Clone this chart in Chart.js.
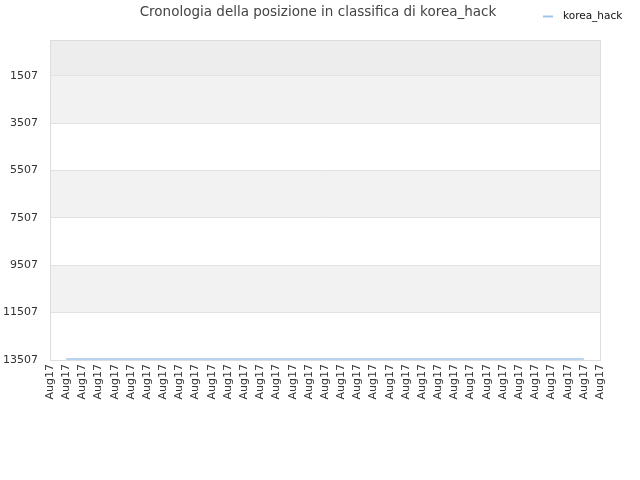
<!DOCTYPE html>
<html>
 <head>
  <meta charset="utf-8">
  <title>Cronologia della posizione in classifica di korea_hack</title>
  <script src="https://cdn.jsdelivr.net/npm/chart.js@4.4.1/dist/chart.umd.min.js"></script>
  <style>
    body { margin: 0; background: #fff; }
    #wrap { width: 640px; height: 480px; }
  </style>
 </head>
 <body>
  <div id="wrap">
    <canvas id="myChart" width="640" height="480"></canvas>
  </div>

  <script type="text/javascript">
    // chart data
    var chartTitle = 'Cronologia della posizione in classifica di korea_hack';
    var seriesName = 'korea_hack';
    var labels = ['Aug17', 'Aug17', 'Aug17', 'Aug17', 'Aug17', 'Aug17', 'Aug17',
                  'Aug17', 'Aug17', 'Aug17', 'Aug17', 'Aug17', 'Aug17', 'Aug17',
                  'Aug17', 'Aug17', 'Aug17', 'Aug17', 'Aug17', 'Aug17', 'Aug17',
                  'Aug17', 'Aug17', 'Aug17', 'Aug17', 'Aug17', 'Aug17', 'Aug17',
                  'Aug17', 'Aug17', 'Aug17', 'Aug17', 'Aug17', 'Aug17', 'Aug17'];
    var ranks = [null, 13470, 13470, 13470, 13470, 13470, 13470,
                 13470, 13470, 13470, 13470, 13470, 13470, 13470,
                 13470, 13470, 13470, 13470, 13470, 13470, 13470,
                 13470, 13470, 13470, 13470, 13470, 13470, 13470,
                 13470, 13470, 13470, 13470, 13470, 13470, null];
    var yTicks = [1507, 3507, 5507, 7507, 9507, 11507, 13507];
    var yMin = 1;
    var yMax = 13507;

    var lineColor = '#a3c4ea';
    var fontFamily = '"DejaVu Sans", sans-serif';

    // shaded bands behind the plot, title and legend drawn by hand
    var decorPlugin = {
      id: 'decor',
      beforeDraw: function (chart) {
        var ctx = chart.ctx;
        var area = chart.chartArea;
        var y = chart.scales.y;
        ctx.save();
        // top strip above first tick
        ctx.fillStyle = '#ededed';
        ctx.fillRect(area.left, area.top, area.right - area.left, y.getPixelForValue(yTicks[0]) - area.top);
        ctx.fillStyle = '#f2f2f2';
        for (var i = 0; i + 1 < yTicks.length; i += 2) {
          var a = y.getPixelForValue(yTicks[i]);
          var b = y.getPixelForValue(yTicks[i + 1]);
          ctx.fillRect(area.left, a, area.right - area.left, b - a);
        }
        ctx.restore();
      },
      afterDraw: function (chart) {
        var ctx = chart.ctx;
        ctx.save();
        ctx.fillStyle = '#444';
        ctx.font = '13.5px ' + fontFamily;
        ctx.textAlign = 'center';
        ctx.textBaseline = 'middle';
        ctx.fillText(chartTitle, 318, 12);

        ctx.strokeStyle = lineColor;
        ctx.lineWidth = 2;
        ctx.beginPath();
        ctx.moveTo(543, 16.5);
        ctx.lineTo(553, 16.5);
        ctx.stroke();
        ctx.fillStyle = '#111';
        ctx.font = '10.5px ' + fontFamily;
        ctx.textAlign = 'left';
        ctx.fillText(seriesName, 563, 16);
        ctx.restore();
      }
    };

    var ctx = document.getElementById('myChart').getContext('2d');
    var myChart = new Chart(ctx, {
      type: 'line',
      data: {
        labels: labels,
        datasets: [{
          label: seriesName,
          data: ranks,
          borderColor: lineColor,
          backgroundColor: lineColor,
          borderWidth: 1.5,
          pointRadius: 0,
          tension: 0
        }]
      },
      options: {
        responsive: false,
        devicePixelRatio: 1,
        animation: false,
        layout: { padding: { top: 40, right: 40, left: 0, bottom: 0 } },
        plugins: {
          legend: { display: false },
          title: { display: false },
          tooltip: { enabled: false }
        },
        scales: {
          x: {
            offset: false,
            grid: { display: false, drawTicks: false },
            border: { color: '#dddddd' },
            ticks: {
              autoSkip: false,
              minRotation: 90,
              maxRotation: 90,
              padding: 4,
              color: '#333',
              font: { family: fontFamily, size: 11 }
            },
            afterFit: function (scale) { scale.height = 120; }
          },
          y: {
            reverse: true,
            min: yMin,
            max: yMax,
            grid: { color: '#e2e2e2', drawTicks: false },
            border: { color: '#dddddd' },
            ticks: {
              padding: 12,
              color: '#333',
              font: { family: fontFamily, size: 11 },
              callback: function (value) { return String(value); }
            },
            afterBuildTicks: function (scale) {
              scale.ticks = yTicks.map(function (v) { return { value: v }; });
            },
            afterFit: function (scale) { scale.width = 50; }
          }
        }
      },
      plugins: [decorPlugin, {
        id: 'rightBorder',
        afterDraw: function (chart) {
          var c = chart.ctx, a = chart.chartArea;
          c.save();
          c.strokeStyle = '#dddddd';
          c.lineWidth = 1;
          c.beginPath();
          c.moveTo(a.right + 0.5, a.top);
          c.lineTo(a.right + 0.5, a.bottom);
          c.moveTo(a.left, a.top + 0.5);
          c.lineTo(a.right, a.top + 0.5);
          c.stroke();
          c.restore();
        }
      }]
    });
  </script>
 </body>
</html>
